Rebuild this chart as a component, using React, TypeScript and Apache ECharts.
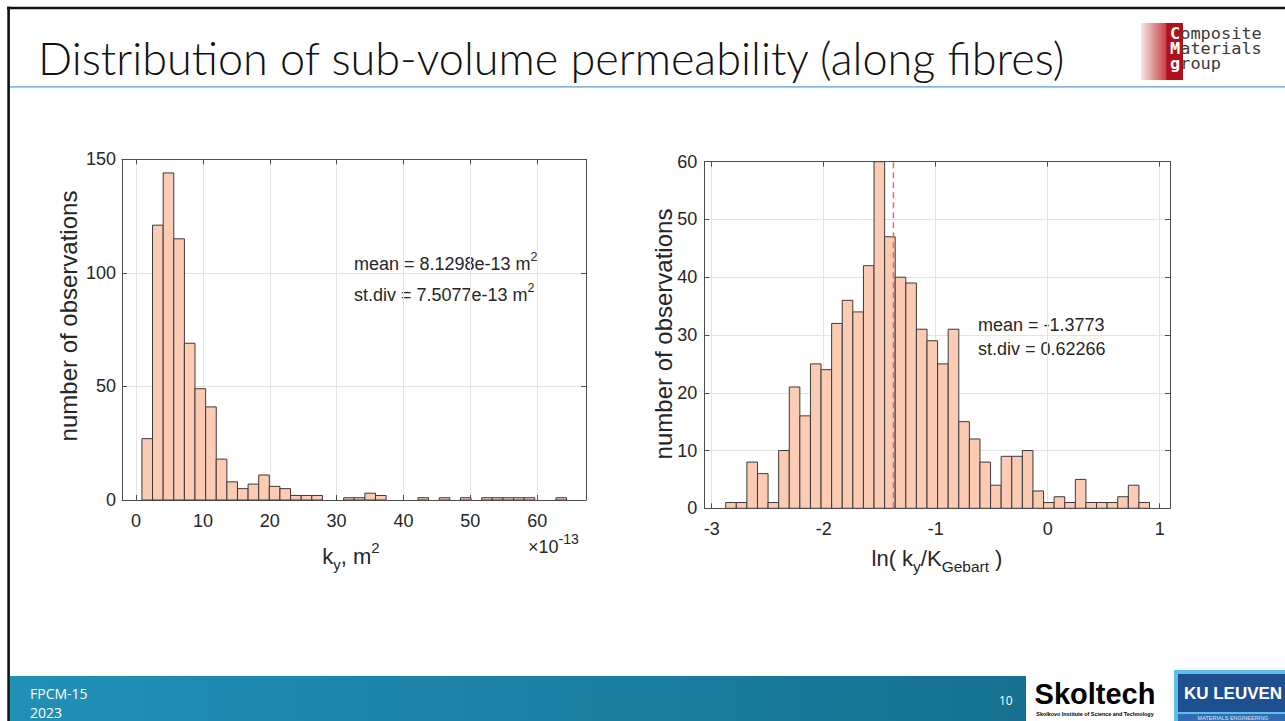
import React, { useEffect, useRef } from "react";
import * as echarts from "echarts";

// ---------- data ----------
const leftBinStart = 0.88;
const leftBinWidth = 1.588;
const leftCounts = [27, 121, 144, 115, 69, 49, 41, 18, 8, 5, 7, 11, 6, 5, 2, 2, 2, 0, 0, 1, 1, 3, 2, 0, 0, 0, 1, 0, 1, 0, 1, 0, 1, 1, 1, 1, 1, 0, 0, 1];
const leftXMin = -2.1;
const leftXMax = 67.3;
const leftYMax = 150;
const leftYInterval = 50;

const rightBinStart = -2.875;
const rightBinWidth = 0.0946;
const rightCounts = [1, 1, 8, 6, 1, 10, 21, 16, 25, 24, 32, 36, 34, 42, 60, 47, 40, 39, 31, 29, 25, 31, 15, 12, 8, 4, 9, 9, 10, 3, 1, 2, 1, 5, 1, 1, 1, 2, 4, 1];
const rightXMin = -3.066;
const rightXMax = 1.092;
const rightYMax = 60;
const rightYInterval = 10;
const rightMean = -1.3773;

const leftStats = ["mean = 8.1298e-13 m", "st.div = 7.5077e-13 m"];
const rightStats = ["mean = -1.3773", "st.div = 0.62266"];

const TITLE = "Distribution of sub-volume permeability (along fibres)";

// ---------- styles ----------
const FONT = "'Liberation Sans', Arial, sans-serif";
const MONO = "'DejaVu Sans Mono', monospace";
const AXIS = "#4d4d4d";
const TXT = "#262626";
const GRID = "#e4e4e4";
const BAR_FILL = "#FBCBB4";
const BAR_EDGE = "#3a3a3a";

function binsToData(start: number, width: number, counts: number[]) {
  return counts.map((c, i) => [start + i * width, start + (i + 1) * width, c]);
}

const renderHist = (params: any, api: any) => {
  const x0 = api.value(0);
  const x1 = api.value(1);
  const c = api.value(2);
  if (!c) return null;
  const p0 = api.coord([x0, c]);
  const p1 = api.coord([x1, 0]);
  return {
    type: "rect",
    shape: { x: p0[0], y: p0[1], width: p1[0] - p0[0], height: p1[1] - p0[1] },
    style: { fill: BAR_FILL, stroke: BAR_EDGE, lineWidth: 1 },
  };
};

function xAxis(gridIndex: number, min: number, max: number, position: "top" | "bottom") {
  const main = position === "bottom";
  return {
    type: "value",
    gridIndex,
    position,
    min,
    max,
    splitNumber: 5,
    axisLine: { show: true, onZero: false, lineStyle: { color: AXIS, width: 1 } },
    axisTick: { show: true, inside: true, length: 5, lineStyle: { color: AXIS } },
    axisLabel: {
      show: main,
      color: TXT,
      fontSize: 18,
      fontFamily: FONT,
      margin: 12,
      showMinLabel: false,
      showMaxLabel: false,
    },
    splitLine: { show: main, lineStyle: { color: GRID, width: 1 } },
  };
}

function yAxis(gridIndex: number, max: number, interval: number, position: "left" | "right", margin: number) {
  const main = position === "left";
  return {
    type: "value",
    gridIndex,
    position,
    min: 0,
    max,
    interval,
    axisLine: { show: true, onZero: false, lineStyle: { color: AXIS, width: 1 } },
    axisTick: { show: true, inside: true, length: 5, lineStyle: { color: AXIS } },
    axisLabel: { show: main, color: TXT, fontSize: 18, fontFamily: FONT, margin },
    splitLine: { show: main, lineStyle: { color: GRID, width: 1 } },
  };
}

const supRich = (base: number, sup: number, lh: number) => ({
  a: { fontSize: base, fontFamily: FONT, fill: TXT, lineHeight: lh },
  sub: { fontSize: sup, fontFamily: FONT, fill: TXT, lineHeight: sup, verticalAlign: "bottom" },
  sup: { fontSize: sup, fontFamily: FONT, fill: TXT, lineHeight: sup, verticalAlign: "top" },
});

const option: any = {
  animation: false,
  backgroundColor: "#ffffff",
  textStyle: { fontFamily: FONT },
  grid: [
    { left: 122, top: 159.3, width: 464, height: 340.7, containLabel: false },
    { left: 704.3, top: 161.7, width: 465.7, height: 346.6, containLabel: false },
  ],
  xAxis: [
    xAxis(0, leftXMin, leftXMax, "bottom"),
    xAxis(0, leftXMin, leftXMax, "top"),
    xAxis(1, rightXMin, rightXMax, "bottom"),
    xAxis(1, rightXMin, rightXMax, "top"),
  ],
  yAxis: [
    yAxis(0, leftYMax, leftYInterval, "left", 6),
    yAxis(0, leftYMax, leftYInterval, "right", 6),
    yAxis(1, rightYMax, rightYInterval, "left", 7),
    yAxis(1, rightYMax, rightYInterval, "right", 7),
  ],
  series: [
    {
      type: "custom",
      xAxisIndex: 0,
      yAxisIndex: 0,
      clip: true,
      renderItem: renderHist,
      encode: { x: [0, 1], y: 2 },
      data: binsToData(leftBinStart, leftBinWidth, leftCounts),
      silent: true,
    },
    {
      type: "custom",
      xAxisIndex: 2,
      yAxisIndex: 2,
      clip: true,
      renderItem: renderHist,
      encode: { x: [0, 1], y: 2 },
      data: binsToData(rightBinStart, rightBinWidth, rightCounts),
      silent: true,
    },
    {
      type: "line",
      xAxisIndex: 2,
      yAxisIndex: 2,
      data: [
        [rightMean, 0],
        [rightMean, rightYMax],
      ],
      symbol: "none",
      z: 5,
      color: "#EE6A66",
      lineStyle: { color: "#EE6A66", width: 1.5, type: [6, 4] },
      silent: true,
    },
  ],
  graphic: [
    // slide frame
    { type: "rect", shape: { x: 7, y: 6.8, width: 1278, height: 2.5 }, style: { fill: "#111" } },
    { type: "rect", shape: { x: 7.3, y: 6.8, width: 2.6, height: 870 }, style: { fill: "#111" }, z: 10 },
    // title
    {
      type: "text",
      x: 38,
      y: 58,
      style: { text: TITLE, fontFamily: "Lato, 'Open Sans', sans-serif", fontWeight: 300, fontSize: 45, fill: "#111", verticalAlign: "middle" },
    },
    { type: "rect", shape: { x: 10, y: 86.3, width: 1275, height: 1.3 }, style: { fill: "#5B9BD5" } },
    // CMG logo
    {
      type: "rect",
      shape: { x: 1141, y: 23, width: 42, height: 57 },
      style: {
        fill: new echarts.graphic.LinearGradient(0, 0, 1, 0, [
          { offset: 0, color: "#f9e6e6" },
          { offset: 0.58, color: "#c9474d" },
          { offset: 0.62, color: "#b0101a" },
          { offset: 1, color: "#b0101a" },
        ]),
      },
    },
    {
      type: "text",
      x: 1170,
      y: 26,
      scaleX: 1.13,
      style: {
        text: "{w|C}{g|omposite}\n{w|M}{g|aterials}\n{w|g}{g|roup}",
        verticalAlign: "top",
        rich: {
          w: { fontFamily: MONO, fontWeight: "bold", fontSize: 15, fill: "#ffffff", lineHeight: 15.2 },
          g: { fontFamily: MONO, fontSize: 15, fill: "#3a3a3a", lineHeight: 15.2 },
        },
      },
    },
    // left chart texts
    {
      type: "text",
      x: 68,
      y: 316,
      rotation: Math.PI / 2,
      style: { text: "number of observations", fontFamily: FONT, fontSize: 24, fill: TXT, align: "center", verticalAlign: "middle" },
    },
    {
      type: "text",
      x: 351,
      y: 556,
      style: { text: "{a|k}{sub|y}{a|, m}{sup|2}", rich: supRich(22, 15, 32), align: "center", verticalAlign: "middle" },
    },
    {
      type: "text",
      x: 528,
      y: 547,
      style: { text: "{a|×10}{sup|-13}", rich: supRich(18, 14, 30), align: "left", verticalAlign: "middle" },
    },
    {
      type: "text",
      x: 354,
      y: 264,
      style: { text: `{a|${leftStats[0]}}{sup|2}`, rich: supRich(18, 12.5, 28), align: "left", verticalAlign: "middle" },
    },
    {
      type: "text",
      x: 354,
      y: 295,
      style: { text: `{a|${leftStats[1]}}{sup|2}`, rich: supRich(18, 12.5, 28), align: "left", verticalAlign: "middle" },
    },
    // right chart texts
    {
      type: "text",
      x: 663,
      y: 334,
      rotation: Math.PI / 2,
      style: { text: "number of observations", fontFamily: FONT, fontSize: 24, fill: TXT, align: "center", verticalAlign: "middle" },
    },
    {
      type: "text",
      x: 937,
      y: 558,
      style: { text: "{a|ln( k}{sub|y}{a|/K}{sub|Gebart}{a| )}", rich: supRich(22, 15.5, 32), align: "center", verticalAlign: "middle" },
    },
    { type: "text", x: 978, y: 325, style: { text: rightStats[0], fontFamily: FONT, fontSize: 18, fill: TXT, verticalAlign: "middle" } },
    { type: "text", x: 978, y: 349, style: { text: rightStats[1], fontFamily: FONT, fontSize: 18, fill: TXT, verticalAlign: "middle" } },
    // footer band
    {
      type: "rect",
      shape: { x: 10, y: 676, width: 1016, height: 45 },
      style: {
        fill: new echarts.graphic.LinearGradient(0, 0, 1, 0, [
          { offset: 0, color: "#2190B6" },
          { offset: 0.5, color: "#1C81A5" },
          { offset: 1, color: "#167190" },
        ]),
      },
    },
    { type: "text", x: 30, y: 693, style: { text: "FPCM-15", fontFamily: "'Open Sans', sans-serif", fontSize: 14, fill: "#fff", verticalAlign: "middle" } },
    { type: "text", x: 30, y: 712, style: { text: "2023", fontFamily: "'Open Sans', sans-serif", fontSize: 14, fill: "#fff", verticalAlign: "middle" } },
    { type: "text", x: 999, y: 700, style: { text: "10", fontFamily: "'Open Sans', sans-serif", fontSize: 12, fill: "#fff", verticalAlign: "middle" } },
    // Skoltech logo
    { type: "text", x: 1095, y: 694, style: { text: "Skoltech", fontFamily: FONT, fontWeight: "bold", fontSize: 29, fill: "#000", align: "center", verticalAlign: "middle" } },
    { type: "text", x: 1095, y: 714, style: { text: "Skolkovo Institute of Science and Technology", fontFamily: FONT, fontWeight: "bold", fontSize: 5.4, fill: "#000", align: "center", verticalAlign: "middle" } },
    // KU Leuven logo
    { type: "rect", shape: { x: 1174, y: 670, width: 111, height: 51 }, style: { fill: "#5BBDEB" } },
    { type: "rect", shape: { x: 1178, y: 674, width: 107, height: 38 }, style: { fill: "#1D4F91" } },
    { type: "rect", shape: { x: 1178, y: 714, width: 107, height: 7 }, style: { fill: "#2F6CB3" } },
    { type: "text", x: 1233, y: 693, style: { text: "KU LEUVEN", fontFamily: FONT, fontWeight: "bold", fontSize: 17, fill: "#fff", align: "center", verticalAlign: "middle" } },
    { type: "text", x: 1233, y: 718, style: { text: "MATERIALS ENGINEERING", fontFamily: FONT, fontSize: 5.5, fill: "#dfe9f5", align: "center", verticalAlign: "middle" } },
  ],
};

export default function App() {
  const ref = useRef<HTMLDivElement>(null);
  useEffect(() => {
    const chart = echarts.init(ref.current as HTMLDivElement, null, { renderer: "svg" });
    chart.setOption(option);
    return () => chart.dispose();
  }, []);
  return (
    <div
      ref={ref}
      style={{ position: "fixed", left: 0, top: 0, width: 1285, height: 721, background: "#fff" }}
    />
  );
}
